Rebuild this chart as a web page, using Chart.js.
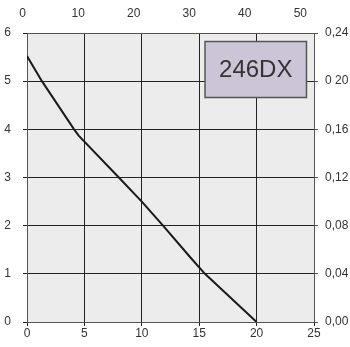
<!DOCTYPE html>
<html>
<head>
<meta charset="utf-8">
<script src="https://cdn.jsdelivr.net/npm/chart.js@4"></script>
<style>
  body { margin: 0; background: #fff; }
  #wrap { width: 350px; height: 347px; position: relative; }
</style>
</head>
<body>
<div id="wrap"><canvas id="chart"></canvas></div>
<script>
// flow (bottom axis) vs pressure (left axis)
const flowX = [0, 1.3, 4.1, 4.5, 8.0, 10, 11.85, 14.2, 15.5, 20];
const pressureY = [5.52, 5.0, 4.0, 3.87, 3.0, 2.5, 2.0, 1.35, 1.0, 0];
const topTicks = [0, 10, 20, 30, 40, 50];
const rightTicks = [0, 0.04, 0.08, 0.12, 0.16, 0.20, 0.24];
const rightLabels = ['0,00', '0,04', '0,08', '0,12', '0,16', '0 20', '0,24'];
const seriesName = '246DX';

const FONT = "'Liberation Sans', Arial, sans-serif";
Chart.defaults.font.family = FONT;
Chart.defaults.font.size = 12;
Chart.defaults.color = '#333';

const plotBg = {
    id: 'plotBg',
    beforeDraw(chart) {
        const a = chart.chartArea;
        const ctx = chart.ctx;
        ctx.save();
        ctx.fillStyle = '#ececec';
        ctx.fillRect(a.left, a.top, a.right - a.left, a.bottom - a.top);
        ctx.restore();
    }
};

// top axis labels, placed with the x2 scale
const topLabels = {
    id: 'topLabels',
    afterDraw(chart) {
        const s = chart.scales.x2;
        const ctx = chart.ctx;
        ctx.save();
        ctx.fillStyle = '#333';
        ctx.font = '12px ' + FONT;
        ctx.textAlign = 'center';
        ctx.textBaseline = 'middle';
        topTicks.forEach(v => ctx.fillText(String(v), s.getPixelForValue(v), chart.chartArea.top - 19));
        ctx.restore();
    }
};

// boxed series label, top right of the plot
const nameBox = {
    id: 'nameBox',
    afterDraw(chart) {
        const a = chart.chartArea;
        const ctx = chart.ctx;
        const x = a.right - 109, y = a.top + 8.5, w = 101.5, h = 56;
        ctx.save();
        ctx.fillStyle = '#ccc4d7';
        ctx.fillRect(x, y, w, h);
        ctx.strokeStyle = '#555';
        ctx.lineWidth = 1.5;
        ctx.strokeRect(x, y, w, h);
        ctx.fillStyle = '#333';
        ctx.font = '24px ' + FONT;
        ctx.textAlign = 'center';
        ctx.textBaseline = 'middle';
        ctx.fillText(seriesName, x + w / 2, y + h / 2 + 1);
        ctx.restore();
    }
};

new Chart(document.getElementById('chart'), {
    type: 'scatter',
    data: {
        datasets: [{
            label: seriesName,
            data: flowX.map((v, i) => ({ x: v, y: pressureY[i] })),
            showLine: true,
            borderColor: '#1a1a1a',
            borderWidth: 2,
            pointRadius: 0,
            tension: 0
        }]
    },
    options: {
        responsive: true,
        maintainAspectRatio: false,
        animation: false,
        layout: { padding: 0 },
        plugins: { legend: { display: false }, tooltip: { enabled: false } },
        scales: {
            x: {
                type: 'linear', position: 'bottom', min: 0, max: 25,
                ticks: { stepSize: 5, padding: 0, color: '#333' },
                grid: { color: '#222', tickLength: 4 },
                border: { color: '#555', width: 1 },
                afterFit(s) { s.height = 25; }
            },
            x2: {
                type: 'linear', position: 'top', min: 0.79, max: 52.46,
                ticks: { display: false },
                grid: { display: false },
                border: { color: '#555', width: 1 },
                afterFit(s) { s.height = 33; }
            },
            y: {
                type: 'linear', position: 'left', min: 0, max: 6,
                ticks: { stepSize: 1, padding: 12, color: '#333' },
                grid: { color: '#222', tickLength: 4 },
                border: { color: '#555', width: 1 },
                afterFit(s) { s.width = 27; }
            },
            y2: {
                type: 'linear', position: 'right', min: 0, max: 0.24,
                afterBuildTicks(s) { s.ticks = rightTicks.map(v => ({ value: v })); },
                ticks: { autoSkip: false, padding: 7, color: '#333',
                    callback: (v, i) => rightLabels[i] },
                grid: { display: true, drawOnChartArea: false, color: '#555', tickLength: 4 },
                border: { color: '#555', width: 1 },
                afterFit(s) { s.width = 36; }
            }
        }
    },
    plugins: [plotBg, topLabels, nameBox]
});
</script>
</body>
</html>
